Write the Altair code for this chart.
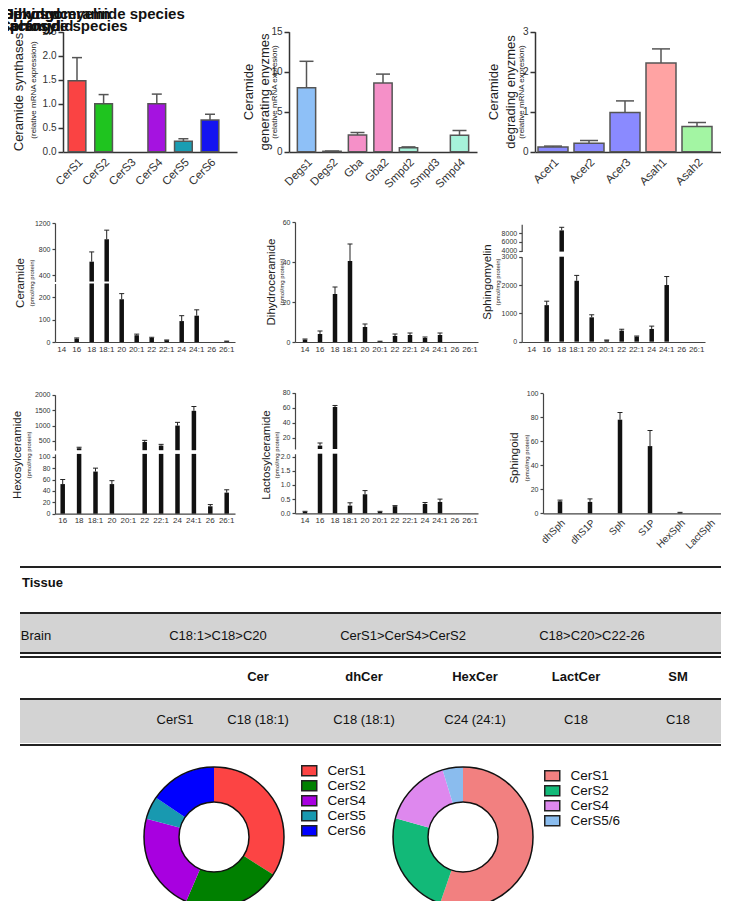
import altair as alt
import pandas as pd

W, H = 713, 893
FONT = "Liberation Sans, Arial, Helvetica, sans-serif"
NARROW = "Liberation Sans Narrow, Arial Narrow, Liberation Sans, sans-serif"


def P(v):
    return v - 8


# ---------------- data ----------------
cers_cats = ["CerS1", "CerS2", "CerS3", "CerS4", "CerS5", "CerS6"]
cers_vals = [1.48, 1.0, 0.0, 1.0, 0.22, 0.66]
cers_errs = [1.96, 1.19, 0.0, 1.20, 0.27, 0.78]
cers_cols = ["#fa4343", "#1fc41f", "#cccccc", "#a513e0", "#1a9db3", "#1414f0"]

gen_cats = ["Degs1", "Degs2", "Gba", "Gba2", "Smpd2", "Smpd3", "Smpd4"]
gen_vals = [8.0, 0.05, 2.1, 8.6, 0.5, 0.0, 2.05]
gen_errs = [11.3, 0.08, 2.4, 9.7, 0.6, 0.0, 2.65]
gen_cols = ["#8ec0f7", "#8ec0f7", "#f590c8", "#f590c8", "#a6f2da", "#a6f2da", "#a6f2da"]

deg_cats = ["Acer1", "Acer2", "Acer3", "Asah1", "Asah2"]
deg_vals = [0.12, 0.21, 0.98, 2.22, 0.63]
deg_errs = [0.14, 0.28, 1.27, 2.57, 0.73]
deg_cols = ["#8a8aff", "#8a8aff", "#8a8aff", "#ffa3a3", "#a3f5a3"]

chain12 = ["14", "16", "18", "18:1", "20", "20:1", "22", "22:1", "24", "24:1", "26", "26:1"]
chain11 = ["16", "18", "18:1", "20", "20:1", "22", "22:1", "24", "24:1", "26", "26:1"]

cer_vals = [0, 15, 605, 950, 190, 30, 18, 8, 93, 117, 0, 3]
cer_errs = [0, 18, 755, 1090, 215, 35, 21, 9, 117, 143, 0, 4]
dh_vals = [1.2, 4.0, 24, 40.5, 7.5, 0.3, 3.0, 3.5, 2.0, 3.5, 0, 0]
dh_errs = [1.5, 5.5, 27.5, 49, 9.0, 0.4, 4.0, 4.5, 2.5, 4.5, 0, 0]
sm_vals = [0, 1290, 8600, 2150, 860, 50, 390, 180, 450, 2000, 0, 0]
sm_errs = [0, 1430, 9300, 2340, 950, 60, 440, 200, 550, 2300, 0, 0]

hex_vals = [52, 263, 74, 52, 0, 468, 350, 1000, 1480, 13, 37]
hex_errs = [60, 296, 80, 58, 0, 520, 390, 1105, 1620, 16, 42]
lac_vals = [0.05, 9.5, 61, 0.27, 0.67, 0.05, 0.25, 0, 0.33, 0.4, 0, 0]
lac_errs = [0.07, 13, 63, 0.37, 0.8, 0.07, 0.27, 0, 0.38, 0.5, 0, 0]
sph_cats = ["dhSph", "dhS1P", "Sph", "S1P", "HexSph", "LactSph"]
sph_vals = [10, 9.5, 78, 56, 0.5, 0]
sph_errs = [11, 12, 84, 69, 0.8, 0]

head_title = ["Dihydroceramide species", "Sphingomyelin", "Hexosyl"]
head_title2 = ["Ceramide species", "Sphingoid", "Lactosyl"]

table_title = ["Tissue"]
table_row1 = ["Brain", "C18:1>C18>C20", "CerS1>CerS4>CerS2", "C18>C20>C22-26"]
table_head = ["", "Cer", "dhCer", "HexCer", "LactCer", "SM"]
table_row2 = ["CerS1", "C18 (18:1)", "C18 (18:1)", "C24 (24:1)", "C18", "C18"]

pie1_cats = ["CerS1", "CerS2", "CerS4", "CerS5", "CerS6"]
pie1_vals = [34.0, 22.5, 22.7, 5.3, 15.5]
pie1_cols = ["#fc4444", "#008000", "#a800e0", "#1899b0", "#0000ff"]
pie2_cats = ["CerS1", "CerS2", "CerS4", "CerS5/6"]
pie2_vals = [55.3, 24.0, 16.0, 4.7]
pie2_cols = ["#f28080", "#12b978", "#de88ee", "#8abcee"]

layers = []


def band(cats, a0, a1, c0, step, w):
    n = len(cats)
    pi = 1 - w / step
    po = max(((a1 - a0) / step - n + pi) / 2, 0)
    st = (a1 - a0) / (n - pi + 2 * po)
    space = (a1 - a0) - st * (n - pi)
    align = (c0 - w / 2 - a0) / space if space > 1e-6 else 0.5
    align = min(max(align, 0.0), 1.0)
    return alt.Scale(domain=cats, range=[P(a0), P(a1)], paddingInner=pi,
                     paddingOuter=po, align=align)


def lin(domain, bottom, top):
    return alt.Scale(domain=list(domain), range=[P(bottom), P(top)], clamp=True,
                     nice=False, zero=False)


def bar_panel(cats, vals, errs, xs, axis_x, axis_y, segs, st, colors=None):
    df = pd.DataFrame({"cat": cats, "val": vals, "err": errs})
    for i, seg in enumerate(segs):
        lo, hi = seg["domain"]
        ys = lin(seg["domain"], seg["bottom"], seg["top"])
        ya = alt.Axis(orient="left", offset=-P(axis_x), values=seg["ticks"],
                      format=seg["fmt"], title=None, grid=False,
                      labelFontSize=st["ylab"], labelColor=st["lcol"], labelFont=FONT,
                      domainColor=st["acol"], domainWidth=st["aw"],
                      tickColor=st["acol"], tickWidth=st["aw"], tickSize=st["tick"],
                      labelPadding=2, labelOverlap=False)
        if i == 0:
            xa = alt.Axis(orient="bottom", offset=P(axis_y) - H, title=None, grid=False,
                          ticks=False, labelFontSize=st["xlab"], labelColor=st["lcol"],
                          labelFont=FONT, domainColor=st["acol"], domainWidth=st["aw"],
                          labelPadding=st["xpad"], labelAngle=st["angle"],
                          labelOverlap=False)
        else:
            xa = None
        x_enc = alt.X("cat:N", scale=xs, axis=xa)
        x_no = alt.X("cat:N", scale=xs, axis=None)
        if colors is not None:
            mk = dict(stroke=st["bstroke"], strokeWidth=st["bsw"])
        else:
            mk = dict(color=st["bcol"])
        bars = (alt.Chart(df)
                .transform_filter(f"datum.val > {lo}")
                .transform_calculate(base=f"{lo}")
                .mark_bar(**mk)
                .encode(x=x_enc, y=alt.Y("val:Q", scale=ys, axis=ya, stack=None),
                        y2="base:Q"))
        if colors is not None:
            bars = bars.encode(color=alt.Color("cat:N", scale=alt.Scale(domain=cats, range=colors),
                                               legend=None))
        layers.append(bars)
        if i == 0:
            efilt = f"datum.err > datum.val && datum.err <= {hi}"
        else:
            efilt = f"datum.val > {lo} && datum.err > datum.val"
        edf = alt.Chart(df).transform_filter(efilt)
        layers.append(edf.mark_rule(color=st["ecol"], strokeWidth=st["ew"]).encode(
            x=x_no, y=alt.Y("val:Q", scale=ys, axis=None), y2="err:Q"))
        layers.append(edf.mark_tick(color=st["ecol"], thickness=st["ew"], size=st["cap"],
                                    opacity=1).encode(
            x=x_no, y=alt.Y("err:Q", scale=ys, axis=None)))


def vtitle(text, x, y, size):
    layers.append(alt.Chart(pd.DataFrame({"t": [text]})).mark_text(
        angle=270, font=FONT, fontSize=size, color="#222", align="center",
        baseline="middle").encode(x=alt.value(P(x)), y=alt.value(P(y)), text="t:N"))


TOP = dict(ylab=10, xlab=11.5, lcol="#333", acol="#333", aw=1.5, tick=5, xpad=4,
           angle=-45, bstroke="#555", bsw=1.5, ecol="#555", ew=1.5, cap=10, bcol="#111")
SMALL = dict(ylab=7, xlab=8, lcol="#333", acol="#444", aw=1.2, tick=3, xpad=3,
             angle=0, bstroke="#111", bsw=1, ecol="#222", ew=1, cap=5, bcol="#111")
SPH = dict(SMALL, angle=-45, xlab=10, xpad=4)

# ---------------- row 1 ----------------
bar_panel(cers_cats, cers_vals, cers_errs, band(cers_cats, 63, 237, 77, 26.6, 17.7),
          63, 152, [dict(domain=[0, 2.5], bottom=151.7, top=31.7,
                         ticks=[0, 0.5, 1, 1.5, 2, 2.5], fmt=".1f")], dict(TOP, cap=10), cers_cols)
bar_panel(gen_cats, gen_vals, gen_errs, band(gen_cats, 289, 477, 306.5, 25.5, 18.3),
          289, 152, [dict(domain=[0, 15], bottom=151.7, top=31.7,
                          ticks=[0, 5, 10, 15], fmt="d")], dict(TOP, cap=14), gen_cols)
bar_panel(deg_cats, deg_vals, deg_errs, band(deg_cats, 535, 722, 553, 36, 30),
          535, 152, [dict(domain=[0, 3], bottom=151.7, top=31.7,
                          ticks=[0, 1, 2, 3], fmt="d")], dict(TOP, cap=18), deg_cols)

vtitle("Ceramide synthases", 18.5, 92, 13)
vtitle("(relative mRNA expression)", 33.5, 90, 8)
vtitle("Ceramide", 248.5, 92, 13)
vtitle("generating enyzmes", 264.5, 92, 13)
vtitle("(relative mRNA expresion)", 275, 92, 8)
vtitle("Ceramide", 494, 92, 13)
vtitle("degrading enyzmes", 511, 92, 13)
vtitle("(relative mRNA expresion)", 522, 92, 8)

# ---------------- row 2 ----------------
bar_panel(chain12, cer_vals, cer_errs, band(chain12, 55, 235, 61.7, 15, 4.5), 55, 342,
          [dict(domain=[0, 260], bottom=342, top=283.5, ticks=[0, 100, 200], fmt="d"),
           dict(domain=[300, 1200], bottom=281.5, top=223, ticks=[400, 800, 1200], fmt="d")],
          SMALL)
bar_panel(chain12, dh_vals, dh_errs, band(chain12, 295, 478, 305, 15, 4.5), 295, 342,
          [dict(domain=[0, 60], bottom=342, top=222, ticks=[0, 20, 40, 60], fmt="d")], SMALL)
bar_panel(chain12, sm_vals, sm_errs, band(chain12, 521.7, 705, 531.7, 15, 4.5), 521.7, 342,
          [dict(domain=[0, 3000], bottom=341.7, top=256.7, ticks=[0, 1000, 2000, 3000], fmt="d"),
           dict(domain=[3800, 10000], bottom=251.6, top=224.2, ticks=[4000, 6000, 8000], fmt="d")],
          SMALL)
vtitle("Ceramide", 20.7, 283, 11.5)
vtitle("(pmol/mg protein)", 31.7, 283, 6)
vtitle("Dihydroceramide", 271.7, 282, 11.5)
vtitle("(pmol/mg protein)", 281.7, 282, 6)
vtitle("Sphingomyelin", 488.3, 282, 11.5)
vtitle("(pmol/mg protein)", 498.3, 282, 6)

# ---------------- row 3 ----------------
bar_panel(chain11, hex_vals, hex_errs, band(chain11, 55, 235, 62.7, 16.4, 4.5), 55, 513.7,
          [dict(domain=[0, 105], bottom=513.7, top=453.9, ticks=[0, 20, 40, 60, 80, 100], fmt="d"),
           dict(domain=[200, 2000], bottom=450.2, top=394.8, ticks=[500, 1000, 1500, 2000], fmt="d")],
          SMALL)
bar_panel(chain12, lac_vals, lac_errs, band(chain12, 295, 478, 305, 15, 4.5), 295, 513.3,
          [dict(domain=[0, 2.1], bottom=513.3, top=453.7, ticks=[0, 0.5, 1, 1.5, 2], fmt=".1f"),
           dict(domain=[5, 80], bottom=449, top=392.7, ticks=[20, 40, 60, 80], fmt="d")],
          SMALL)
bar_panel(sph_cats, sph_vals, sph_errs, band(sph_cats, 543, 727, 560, 30, 4.5), 543, 513.3,
          [dict(domain=[0, 100], bottom=513.3, top=393.3, ticks=[0, 20, 40, 60, 80, 100], fmt="d")],
          SPH)
vtitle("Hexosylceramide", 18.3, 455, 11.5)
vtitle("(pmol/mg protein)", 29.3, 455, 6)
vtitle("Lactosylceramide", 266.7, 455, 11.5)
vtitle("(pmol/mg protein)", 277.3, 455, 6)
vtitle("Sphingoid", 515, 458, 11.5)
vtitle("(pmol/mg protein)", 526.7, 458, 6)

# ---------------- header text ----------------
for t in head_title:
    layers.append(alt.Chart(pd.DataFrame({"t": [t]})).mark_text(
        font=FONT, fontSize=15, fontWeight="bold", color="#111", align="left",
        baseline="middle").encode(x=alt.value(P(3)), y=alt.value(P(14)), text="t:N"))
for t in head_title2:
    layers.append(alt.Chart(pd.DataFrame({"t": [t]})).mark_text(
        font=FONT, fontSize=15, fontWeight="bold", color="#111", align="left",
        baseline="middle").encode(x=alt.value(P(0)), y=alt.value(P(26)), text="t:N"))


# ---------------- table ----------------
def hline(y, w=2, x0=20, x1=729):
    layers.append(alt.Chart(pd.DataFrame({"k": [0]})).mark_rule(color="#222", strokeWidth=w).encode(
        x=alt.value(P(x0)), x2=alt.value(P(x1)), y=alt.value(P(y))))


def band_rect(y0, y1, x0=20, x1=729):
    layers.append(alt.Chart(pd.DataFrame({"k": [0]})).mark_rect(color="#d3d3d3").encode(
        x=alt.value(P(x0)), x2=alt.value(P(x1)), y=alt.value(P(y0)), y2=alt.value(P(y1))))


band_rect(613, 653)
band_rect(699, 743)
hline(567)
hline(613)
hline(653)
hline(657)
hline(699)
hline(745)

layers.append(alt.Chart(pd.DataFrame({"t": table_title})).mark_text(
    font=NARROW, fontSize=13, fontWeight="bold", color="#111", align="left",
    baseline="middle").encode(x=alt.value(P(22)), y=alt.value(P(583)), text="t:N"))

tx1 = alt.Scale(domain=[0, 1, 2, 3], range=[P(36), P(218), P(403), P(592)])
df_r1 = pd.DataFrame({"c": list(range(len(table_row1))), "t": table_row1})
layers.append(alt.Chart(df_r1).mark_text(font=NARROW, fontSize=13, color="#111",
                                         baseline="middle").encode(
    x=alt.X("c:Q", scale=tx1, axis=None), y=alt.value(P(636)), text="t:N"))

tx2 = alt.Scale(domain=[0, 1, 2, 3, 4, 5], range=[P(175), P(258), P(364), P(475), P(576), P(678)])
df_h = pd.DataFrame({"c": list(range(len(table_head))), "t": table_head})
layers.append(alt.Chart(df_h).mark_text(font=NARROW, fontSize=13, fontWeight="bold", color="#111",
                                        baseline="middle").encode(
    x=alt.X("c:Q", scale=tx2, axis=None), y=alt.value(P(677)), text="t:N"))
df_r2 = pd.DataFrame({"c": list(range(len(table_row2))), "t": table_row2})
layers.append(alt.Chart(df_r2).mark_text(font=NARROW, fontSize=13, color="#111",
                                         baseline="middle").encode(
    x=alt.X("c:Q", scale=tx2, axis=None), y=alt.value(P(720)), text="t:N"))

# ---------------- donuts ----------------
RECT = "M-1.5,-1L1.5,-1L1.5,1L-1.5,1Z"


def donut(cats, vals, cols, cx, cy, lx, ly):
    df = pd.DataFrame({"cat": cats, "val": vals, "idx": list(range(len(cats)))})
    leg = alt.Legend(orient="none", legendX=P(lx), legendY=P(ly), title=None,
                     symbolType=RECT, symbolSize=100, symbolStrokeColor="#222",
                     symbolStrokeWidth=1.5, symbolOpacity=1, labelFontSize=13.5,
                     labelFont=FONT, labelColor="#111", labelOffset=11.5, rowPadding=-3)
    layers.append(alt.Chart(df).mark_arc(radius=70, radius2=35).encode(
        theta=alt.Theta("val:Q", stack=True),
        color=alt.Color("cat:N", scale=alt.Scale(domain=cats, range=cols), legend=leg),
        order=alt.Order("idx:Q"),
        x=alt.value(P(cx)), y=alt.value(P(cy))))
    for s in (19600, 4900):
        layers.append(alt.Chart(pd.DataFrame({"k": [0]})).mark_point(
            shape="circle", filled=False, stroke="#111", strokeWidth=1.5, opacity=1).encode(
            x=alt.value(P(cx)), y=alt.value(P(cy)), size=alt.value(s)))


donut(pie1_cats, pie1_vals, pie1_cols, 214, 837, 302.5, 764)
donut(pie2_cats, pie2_vals, pie2_cols, 463, 837, 545.5, 769)

chart = (alt.layer(*layers)
         .resolve_scale(x="independent", y="independent", color="independent",
                        theta="independent")
         .properties(width=W, height=H, padding=0, background="white",
                     autosize=alt.AutoSizeParams(type="none"))
         .configure_view(stroke=None))

chart.save("out.html", embed_options={"renderer": "svg", "actions": False})
